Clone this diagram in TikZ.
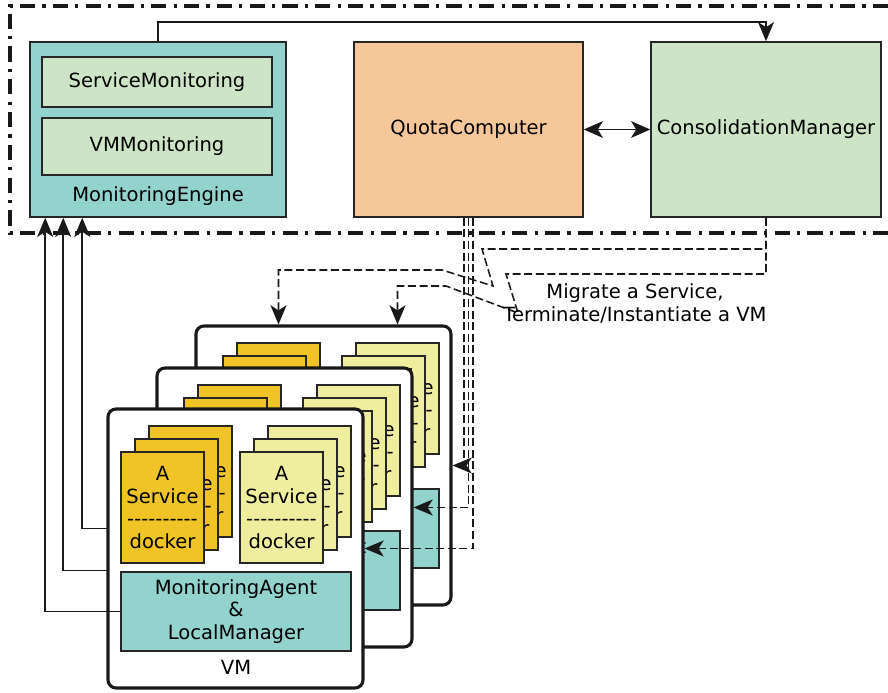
\documentclass[tikz,border=0pt]{standalone}
\usepackage{fontspec}
\setmainfont{DejaVu Sans}
\usetikzlibrary{arrows.meta,calc}
\definecolor{agentteal}{RGB}{146,211,206}
\definecolor{quotaorange}{RGB}{246,200,153}
\definecolor{consgreen}{RGB}{205,229,198}
\definecolor{svcorange}{RGB}{240,196,38}
\definecolor{svcyellow}{RGB}{239,238,158}
\newcommand{\dashrow}{-\kern0pt-\kern0pt-\kern0pt-\kern0pt-\kern0pt-\kern0pt-\kern0pt-\kern0pt-\kern0pt-}
\newcommand{\svctext}{A\\Service\\\dashrow\\docker}

\begin{document}
\begin{tikzpicture}

\tikzstyle{every node} = [font=\fontsize{13.9pt}{16pt}\selectfont]
\tikzstyle{box} = [draw=black!85, line width=1.1pt, inner sep=0, align=center]
\tikzstyle{vmbox} = [draw=black!90, line width=2.2pt, rounded corners=0.2cm, fill=white,
minimum width=6.375cm, minimum height=6.975cm]
\tikzstyle{card} = [box, minimum width=2.075cm, minimum height=2.775cm]
\tikzstyle{agent} = [box, fill=agentteal, minimum width=5.75cm, minimum height=1.975cm]
\tikzstyle{conn} = [line width=1.1pt, draw=black!90]
\tikzstyle{dline} = [conn, dash pattern=on 0.2cm off 0.09cm]
\tikzstyle{arr} = [-{Stealth[length=0.48cm,width=0.4cm,inset=0.13cm]}]
\tikzstyle{ddframe} = [line width=2.5pt, draw=black!90, dash pattern=on 0.38cm off 0.18cm on 0.08cm off 0.18cm]

\useasboundingbox (0,0) rectangle (22.2,17.325);

% control plane
\draw[ddframe] (22.2,17.175) -- (0.25,17.175) -- (0.25,11.5) -- (22.2,11.5);

\node [box, fill=agentteal, minimum width=6.4cm, minimum height=4.375cm] (me) at (3.95,14.0875) {};
\node [box, fill=consgreen, minimum width=5.75cm, minimum height=1.25cm] (sm) at (3.925,15.275) {ServiceMonitoring};
\node [box, fill=consgreen, minimum width=5.75cm, minimum height=1.425cm] (vmm) at (3.925,13.6625) {VMMonitoring};
\node (mel) at (3.95,12.41) {MonitoringEngine};

\node [box, fill=quotaorange, minimum width=5.725cm, minimum height=4.375cm] (qc) at (11.7125,14.0875) {QuotaComputer};
\node [box, fill=consgreen, minimum width=5.75cm, minimum height=4.375cm] (cons) at (19.15,14.0875) {ConsolidationManager};

\draw[conn, arr] (me.north) -- ++(0,0.475) -| (cons.north);
\draw[conn, {Stealth[length=0.48cm,width=0.42cm,inset=0.13cm]}-{Stealth[length=0.48cm,width=0.42cm,inset=0.13cm]}] (qc.east) -- (cons.west);

% VMs, back to front
\foreach \v/\dx/\dy/\mx in {3/2.2/2.075/1.325, 2/1.225/1.025/0.85, 1/0/0/0.4} {
  \begin{scope}[shift={(\dx,\dy)}]
    \node [vmbox] (vm\v) at (5.8875,3.6125) {};
    \foreach \c/\cx/\cy in {3/0.7/0.65, 2/0.35/0.325, 1/0/0} {
      \node [card, fill=svcorange] (sa\v\c) at (4.0625+\cx,4.6375+\cy) {\svctext};
      \node [card, fill=svcyellow] (sb\v\c) at (7.0375+\cx,4.6375+\cy) {\svctext};
    }
    \node [agent] (ma\v) at (5.9,2.0375) {MonitoringAgent\\\&\\LocalManager};
    \node (vml\v) at (5.9,0.65) {VM};
  \end{scope}
  \draw[conn, arr] (ma\v.west) -| ($(me.south west)+(\mx,0)$);
}

% quota to the VMs
\foreach \v/\qx in {3/-0.1125, 2/0, 1/0.1125}
  \draw[dline, arr] ($(qc.south)+(\qx,0)$) |- (vm\v.east);

% consolidation actions
\coordinate (kink1) at (12.325,10.175);
\coordinate (kink2) at (12.95,9.5);
\draw[dline, arr] (cons.south) |- (12.05,11.1) -- (kink1) -- (11.05,10.575) -| (sa33.north |- vm3.north);
\draw[dline, arr] (cons.south) |- (12.65,10.475) -- (kink2) -- (11.15,10.175) -| (sb33.north |- vm3.north);
\node [align=center] (mig) at (15.875,9.7375) {Migrate a Service,\\Terminate/Instantiate a VM};

\end{tikzpicture}
\end{document}
